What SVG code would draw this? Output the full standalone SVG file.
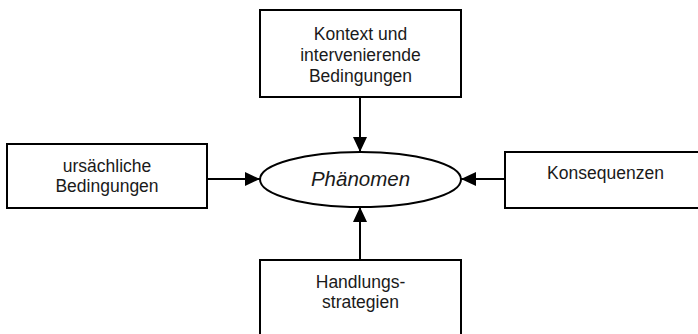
<svg xmlns="http://www.w3.org/2000/svg" width="698" height="334" viewBox="0 0 698 334">
<style>
.box{fill:#fff;stroke:#000;stroke-width:2}
.t{font-family:"Liberation Sans",Arial,sans-serif;font-size:17.5px;fill:#1a1a1a;text-anchor:middle}
.c{stroke:#000;stroke-width:2;fill:none;marker-end:url(#ah)}
</style>
<defs>
<marker id="ah" viewBox="0 0 15 14" refX="15" refY="7" markerWidth="15" markerHeight="14" markerUnits="userSpaceOnUse" orient="auto">
<path d="M0,0 L15,7 L0,14 Z" fill="#000"/>
</marker>
</defs>
<rect width="698" height="334" fill="#fff"/>
<g id="connectors">
<line class="c" x1="360" y1="97" x2="360" y2="152"/>
<line class="c" x1="207" y1="179" x2="260" y2="179"/>
<line class="c" x1="505" y1="179" x2="461" y2="179"/>
<line class="c" x1="360" y1="260" x2="360" y2="207"/>
</g>
<g id="kontext">
<rect class="box" x="260" y="10" width="201" height="87"/>
<text class="t" x="360.5" y="40">Kontext und</text>
<text class="t" x="360.5" y="61">intervenierende</text>
<text class="t" x="360.5" y="82">Bedingungen</text>
</g>
<g id="ursaechliche">
<rect class="box" x="7" y="144" width="200" height="64"/>
<text class="t" x="107" y="172">ursächliche</text>
<text class="t" x="107" y="192">Bedingungen</text>
</g>
<g id="phaenomen">
<ellipse cx="360.5" cy="179.5" rx="100.5" ry="27.5" fill="#fff" stroke="#000" stroke-width="2"/>
<text class="t" x="360.5" y="186" style="font-size:20.5px;font-style:italic">Phänomen</text>
</g>
<g id="konsequenzen">
<rect class="box" x="505" y="152" width="201" height="56"/>
<text class="t" x="605.5" y="179">Konsequenzen</text>
</g>
<g id="handlung">
<rect class="box" x="260" y="260" width="201" height="80"/>
<text class="t" x="360.5" y="288">Handlungs-</text>
<text class="t" x="360.5" y="308">strategien</text>
</g>
</svg>
